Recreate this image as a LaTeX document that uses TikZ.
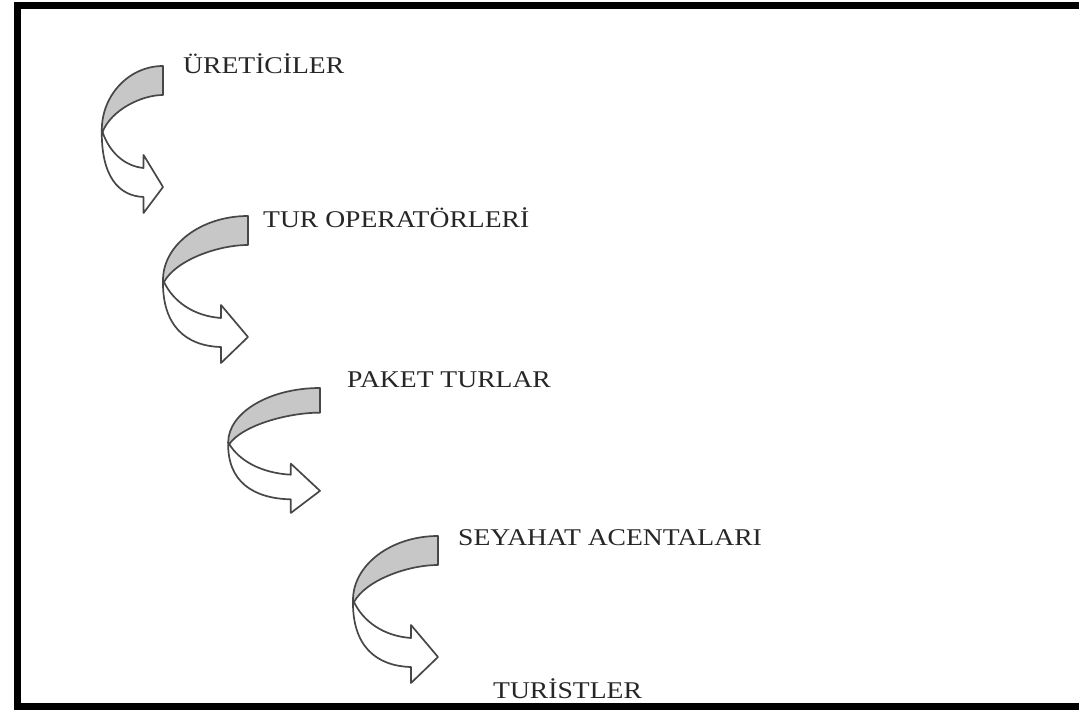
\documentclass[tikz,border=0pt]{standalone}
\usepackage{fontspec}
\setmainfont{Liberation Serif}[FakeStretch=1.15]
\begin{document}
\begin{tikzpicture}[x=1pt,y=-1pt,
  outline/.style={draw=black!72, line width=1.7pt, line join=round},
  back/.style={outline, fill=black!22},
  front/.style={outline, fill=white},
  lbl/.style={anchor=base west, inner sep=0pt, text=black!85, font=\fontsize{24}{28}\selectfont},
  frame/.style={draw=black, line width=7pt},
  curvarrow/.pic={
    \path[back] (0,0) .. controls (-47,0) and (-85,29) .. (-85,64) -- (-84,66)
      .. controls (-72,44) and (-30,29) .. (0,29) -- cycle;
    \path[front] (-85,64) .. controls (-86,110) and (-62,130) .. (-27,131)
      -- (-27,147) -- (0,121) -- (-27,89) -- (-27,102)
      .. controls (-55,100) and (-75,85) .. (-84,66) -- cycle;
  }]
\useasboundingbox (0,0) rectangle (1079,712);
\clip (0,0) rectangle (1079,712);
\fill[white] (0,0) rectangle (1079,712);
\draw[frame] (17,5) rectangle (1095,706);

\pic[xscale=0.72] at (163,66) {curvarrow};
\pic at (248,216) {curvarrow};
\pic[xscale=1.08,yscale=0.85] at (320,388) {curvarrow};
\pic at (438,536) {curvarrow};

\node[lbl] (t1) at (183,73) {ÜRETİCİLER};
\node[lbl] (t2) at (263,227) {TUR OPERATÖRLERİ};
\node[lbl] (t3) at (347,387) {PAKET TURLAR};
\node[lbl] (t4) at (458,545) {SEYAHAT ACENTALARI};
\node[lbl] (t5) at (493,698) {TURİSTLER};
\end{tikzpicture}
\end{document}
